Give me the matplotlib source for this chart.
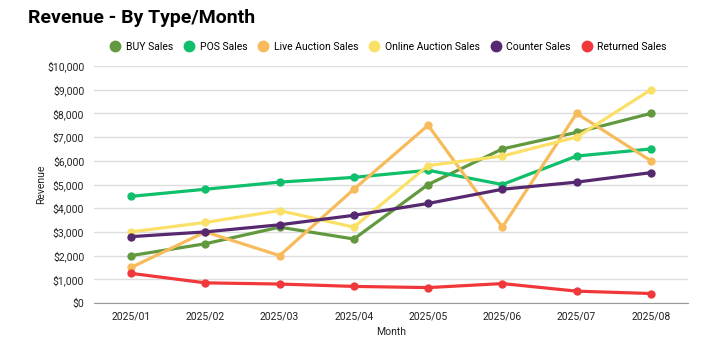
import matplotlib.pyplot as plt
from matplotlib.ticker import FuncFormatter

plt.rcParams['font.family'] = ['Roboto', 'DejaVu Sans']

months = ["2025/01", "2025/02", "2025/03", "2025/04",
          "2025/05", "2025/06", "2025/07", "2025/08"]

buy_sales = [2000, 2500, 3200, 2700, 5000, 6500, 7200, 8000]
pos_sales = [4500, 4800, 5100, 5300, 5600, 5000, 6200, 6500]
live_auction = [1500, 3000, 2000, 4800, 7500, 3200, 8000, 6000]
online_auction = [3000, 3400, 3900, 3200, 5800, 6200, 7000, 9000]
counter_sales = [2800, 3000, 3300, 3700, 4200, 4800, 5100, 5500]
returned_sales = [1250, 850, 800, 700, 650, 820, 500, 400]

series = [
    ("BUY Sales", buy_sales, "#62993e"),
    ("POS Sales", pos_sales, "#0fbf6b"),
    ("Live Auction Sales", live_auction, "#f7bb5c"),
    ("Online Auction Sales", online_auction, "#fbe068"),
    ("Counter Sales", counter_sales, "#55286f"),
    ("Returned Sales", returned_sales, "#f0383b"),
]

fig = plt.figure(figsize=(7.09, 3.49), dpi=100)
ax = fig.add_axes([94 / 709, 46 / 349, 594 / 709, 237 / 349])

x = range(len(months))
for name, vals, color in series:
    ax.plot(x, vals, color=color, linewidth=2.3, marker="o",
            markersize=5, label=name, solid_capstyle="round")

ax.set_xlim(-0.5, len(months) - 0.5)
ax.set_ylim(0, 10000)
ax.set_yticks(range(0, 10001, 1000))
ax.yaxis.set_major_formatter(FuncFormatter(lambda v, p: f"${int(v):,}"))
ax.set_xticks(list(x))
ax.set_xticklabels(months)
ax.tick_params(axis="both", length=0, labelsize=7.5, colors="#222222")
ax.tick_params(axis="y", pad=7)
ax.tick_params(axis="x", pad=6)

ax.grid(axis="y", color="#dddddd", linewidth=1)
ax.set_axisbelow(True)
for side in ["top", "right", "left"]:
    ax.spines[side].set_visible(False)
ax.spines["bottom"].set_color("#999999")

ax.set_xlabel("Month", fontsize=7.5, color="#222222", labelpad=4)
ax.set_ylabel("Revenue", fontsize=7.5, color="#222222", labelpad=1)

fig.text(28 / 709, 1 - 18 / 349, "Revenue - By Type/Month", fontsize=14,
         fontweight="bold", va="center", ha="left")

leg = fig.legend(loc="center", bbox_to_anchor=(389 / 709, 1 - 47 / 349),
                 ncol=6, frameon=False, fontsize=7.5, handlelength=0.8,
                 handletextpad=0.6, columnspacing=1.15)
for h in leg.legend_handles:
    h.set_linestyle("")
    h.set_markersize(7.5)

fig.savefig("out.png", dpi=100, facecolor="white")
